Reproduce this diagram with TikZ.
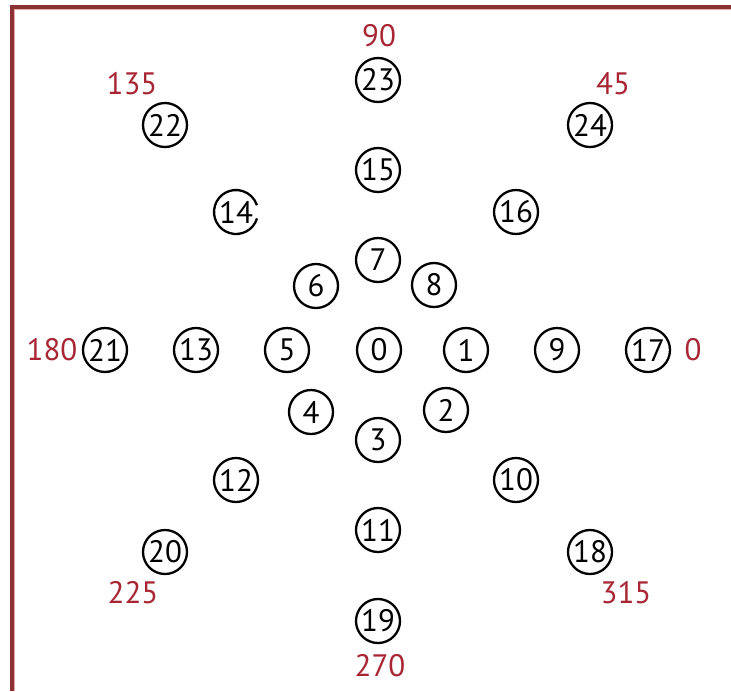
\documentclass[tikz,border=0pt]{standalone}
\usepackage{fontspec}
\setmainfont{PT Sans}
\definecolor{frame}{RGB}{140,50,50}
\definecolor{framelight}{RGB}{230,170,170}
\definecolor{angred}{RGB}{168,38,52}
\begin{document}
\begin{tikzpicture}[x=1pt,y=-1pt,
  num/.style={circle,draw,line width=2.3pt,minimum size=44pt,inner sep=0pt,font=\fontsize{31}{31}\selectfont},
  numopen/.style={circle,minimum size=44pt,inner sep=0pt,font=\fontsize{31}{31}\selectfont},
  ang/.style={text=angred,inner sep=0pt,font=\fontsize{31}{31}\selectfont}]
\useasboundingbox (0,0) rectangle (731,691);
\draw[framelight,line width=1pt] (14.5,691) -- (14.5,9.5) -- (731,9.5);
\draw[frame,line width=4pt] (12,691) -- (12,7) -- (731,7);
% circles
\node[num] (n0) at (379,350) {0};
\node[num] (n1) at (466,350) {1};
\node[num] (n9) at (557,350) {9};
\node[num] (n17) at (648,350) {17};
\node[num] (n5) at (287,350) {5};
\node[num] (n13) at (196,350) {13};
\node[num] (n21) at (105,350) {21};
\node[num] (n7) at (378,260) {7};
\node[num] (n15) at (378,170) {15};
\node[num] (n23) at (378,80) {23};
\node[num] (n3) at (378,440) {3};
\node[num] (n11) at (378,530) {11};
\node[num] (n19) at (378,621) {19};
\node[num] (n8) at (434,285) {8};
\node[num] (n16) at (516,212) {16};
\node[num] (n24) at (590,125) {24};
\node[num] (n6) at (316,286) {6};
\node[numopen] (n14) at (236,212) {14};
\draw[line width=2.3pt] (n14.center) ++(17:22) arc[start angle=17,end angle=342,radius=22];
\node[num] (n22) at (165,125) {22};
\node[num] (n2) at (446,410) {2};
\node[num] (n10) at (516,480) {10};
\node[num] (n18) at (590,552) {18};
\node[num] (n4) at (311,412) {4};
\node[num] (n12) at (236,480) {12};
\node[num] (n20) at (165,552) {20};
% angle labels
\node[ang] (a90) at (379,36) {90};
\node[ang] (a135) at (132,84) {135};
\node[ang] (a45) at (613,84) {45};
\node[ang] (a180) at (52,350) {180};
\node[ang] (a0) at (693,350) {0};
\node[ang] (a225) at (133,593) {225};
\node[ang] (a315) at (626,593) {315};
\node[ang] (a270) at (380,666) {270};
\end{tikzpicture}
\end{document}
